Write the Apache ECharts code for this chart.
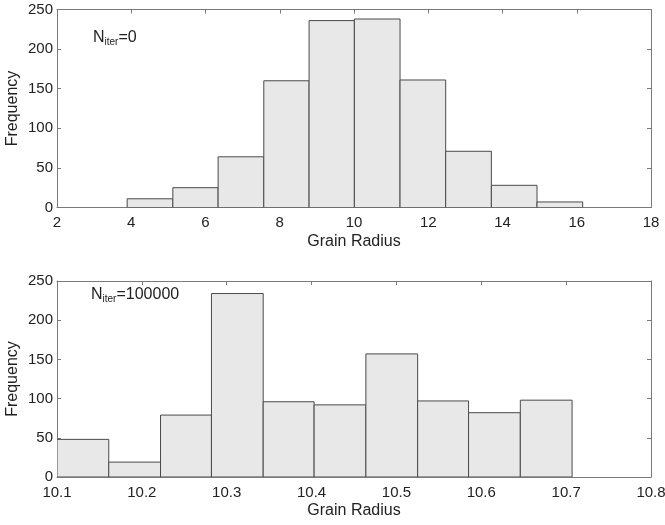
<!DOCTYPE html>
<html>
<head>
<meta charset="utf-8">
<script src="https://cdn.jsdelivr.net/npm/echarts@6/dist/echarts.min.js"></script>
<style>html,body{margin:0;padding:0;background:#fff}#c{width:665px;height:525px}</style>
</head>
<body>
<div id="c"></div>
<script>
// Top histogram (N_iter = 0)
var topEdges = [3.89, 5.12, 6.34, 7.57, 8.79, 10.01, 11.24, 12.47, 13.70, 14.93, 16.16];
var topCounts = [11, 25, 64, 160, 236, 238, 161, 71, 28, 7];
var topXTicks = [2, 18, 2];      // min, max, interval
// Bottom histogram (N_iter = 100000)
var botEdges = [10.100, 10.161, 10.222, 10.282, 10.343, 10.403, 10.464, 10.525, 10.585, 10.646, 10.707];
var botCounts = [48, 19, 79, 234, 96, 92, 157, 97, 82, 98];
var botXTicks = [10.1, 10.8, 0.1];
var yTicks = [0, 250, 50];
var topNote = '0';
var botNote = '100000';
var xName = 'Grain Radius';
var yName = 'Frequency';

function bins(edges, counts) {
  var out = [];
  for (var i = 0; i < counts.length; i++) out.push([edges[i], edges[i + 1], counts[i]]);
  return out;
}

var FONT = 'Liberation Sans';
var TXT = '#222';
var AX = '#7a7a7a';

function renderItem(params, api) {
  var s = api.value(0), e = api.value(1), c = api.value(2);
  var p0 = api.coord([s, 0]), p1 = api.coord([e, c]);
  return {
    type: 'rect',
    shape: { x: p0[0], y: p1[1], width: p1[0] - p0[0], height: p0[1] - p1[1] },
    style: { fill: '#e8e8e8', stroke: '#4a4a4a', lineWidth: 1 }
  };
}

function xAx(grid, t, bottom, fmt) {
  return {
    type: 'value', gridIndex: grid, position: bottom ? 'bottom' : 'top',
    min: t[0], max: t[1], interval: t[2],
    name: bottom ? xName : '', nameLocation: 'middle', nameGap: 26, nameMoveOverlap: false,
    nameTextStyle: { fontFamily: FONT, fontSize: 16, color: TXT },
    axisLine: { show: true, onZero: false, lineStyle: { color: AX, width: 1 } },
    axisTick: { show: true, inside: true, length: 4, lineStyle: { color: AX } },
    axisLabel: { show: bottom, margin: 8, fontFamily: FONT, fontSize: 15, color: TXT, formatter: fmt },
    splitLine: { show: false }
  };
}
function yAx(grid, left) {
  return {
    type: 'value', gridIndex: grid, position: left ? 'left' : 'right',
    min: yTicks[0], max: yTicks[1], interval: yTicks[2],
    name: left ? yName : '', nameLocation: 'middle', nameGap: 36, nameMoveOverlap: false,
    nameTextStyle: { fontFamily: FONT, fontSize: 16, color: TXT },
    axisLine: { show: true, onZero: false, lineStyle: { color: AX, width: 1 } },
    axisTick: { show: true, inside: true, length: 4, lineStyle: { color: AX } },
    axisLabel: { show: left, margin: 4, fontFamily: FONT, fontSize: 15, color: TXT, padding: [7, 0, 0, 0] },
    splitLine: { show: false }
  };
}

var fmtTop = function (v) { return String(Math.round(v)); };
var fmtBot = function (v) { return v.toFixed(1); };

function note(val, left, top) {
  return {
    left: left, top: top,
    text: '{n|N}{s|iter}{n|=' + val + '}',
    textStyle: {
      fontWeight: 'normal',
      rich: {
        n: { fontFamily: FONT, fontSize: 16, fontWeight: 'normal', color: TXT, lineHeight: 18 },
        s: { fontFamily: FONT, fontSize: 10, fontWeight: 'normal', color: TXT, lineHeight: 18, padding: [9, 0, 0, 0] }
      }
    }
  };
}

var chart = echarts.init(document.getElementById('c'), null, { renderer: 'canvas' });
chart.setOption({
  animation: false,
  backgroundColor: '#fff',
  title: [note(topNote, 88, 24), note(botNote, 86, 281)],
  grid: [
    { left: 57, right: 14, top: 9.5, height: 198, containLabel: false, outerBoundsMode: 'none' },
    { left: 57, right: 14, top: 281, height: 196, containLabel: false, outerBoundsMode: 'none' }
  ],
  xAxis: [
    xAx(0, topXTicks, true, fmtTop), xAx(0, topXTicks, false, fmtTop),
    xAx(1, botXTicks, true, fmtBot), xAx(1, botXTicks, false, fmtBot)
  ],
  yAxis: [yAx(0, true), yAx(0, false), yAx(1, true), yAx(1, false)],
  series: [
    { type: 'custom', xAxisIndex: 0, yAxisIndex: 0, renderItem: renderItem, encode: { x: [0, 1], y: 2 }, data: bins(topEdges, topCounts), clip: true },
    { type: 'custom', xAxisIndex: 2, yAxisIndex: 2, renderItem: renderItem, encode: { x: [0, 1], y: 2 }, data: bins(botEdges, botCounts), clip: true }
  ]
});
</script>
</body>
</html>
